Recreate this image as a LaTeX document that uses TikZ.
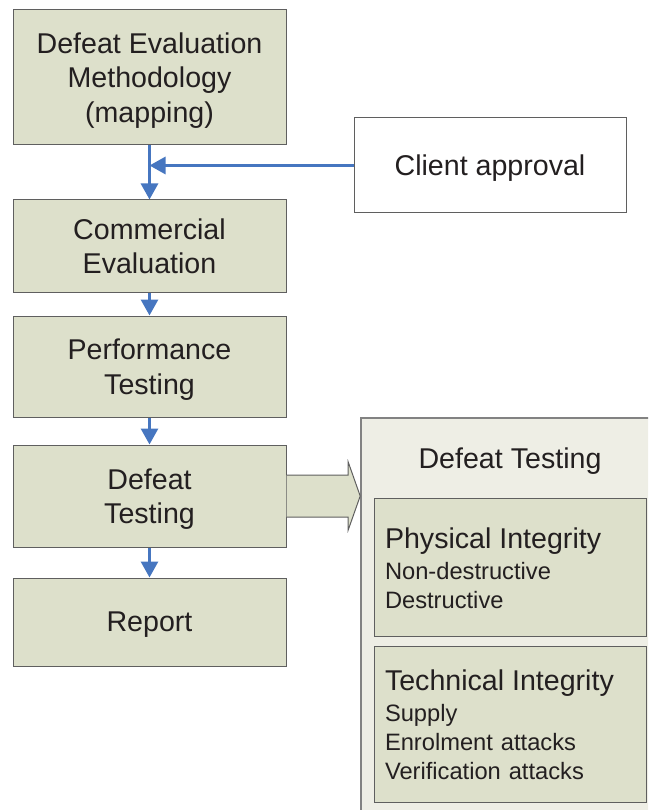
\documentclass[tikz,border=0pt]{standalone}
\usepackage{fontspec}
\setmainfont{Liberation Sans}
\usetikzlibrary{arrows.meta,calc}
\definecolor{boxfill}{RGB}{221,224,203}
\definecolor{panelfill}{RGB}{238,238,229}
\definecolor{boxline}{RGB}{95,95,95}
\definecolor{panelline}{RGB}{130,130,130}
\definecolor{flowblue}{RGB}{70,118,192}
\definecolor{txt}{RGB}{35,31,32}
\newcommand\dnstrutsm{\rule{0pt}{23pt}}
\begin{document}
\begin{tikzpicture}[x=1pt,y=-1pt,
  stepbox/.style={draw=boxline, line width=1pt, fill=boxfill, minimum width=273pt,
    align=center, text=txt, font=\fontsize{28.6}{34.5}\selectfont, inner sep=0pt,
    text depth=0pt},
  whitebox/.style={draw=boxline, line width=1pt, fill=white, minimum width=272pt,
    minimum height=95pt, text=txt, font=\fontsize{28.6}{34.5}\selectfont, inner sep=0pt,
    text depth=0pt},
  panelbox/.style={draw=panelline, line width=1.6pt, fill=panelfill, minimum width=298pt,
    minimum height=397pt, inner sep=0pt},
  subbox/.style={draw=boxline, line width=1pt, fill=boxfill, text width=250pt,
    inner xsep=11pt, inner ysep=0pt, align=left, text=txt,
    font=\fontsize{23.7}{29}\selectfont, execute at begin node=\dnstrutsm},
  titletext/.style={text=txt, font=\fontsize{28.6}{34.5}\selectfont, inner sep=0pt},
  flow/.style={draw=flowblue, line width=3pt, -{Triangle[width=17pt,length=16pt]}},
  blockarrow/.style={draw=boxline, line width=1pt, fill=boxfill}
]
\useasboundingbox (0,0) rectangle (648,810);
\clip (0,0) rectangle (648,810);

% left column
\node[stepbox, minimum height=135pt] (d1) at (149.5,77.5) {Defeat Evaluation\\Methodology\\(mapping)};
\node[stepbox, minimum height=92pt] (d2) at (149.5,246) {Commercial\\Evaluation};
\node[stepbox, minimum height=101pt] (d3) at (149.5,366.5) {Performance\\Testing};
\node[stepbox, minimum height=102pt] (d4) at (149.5,496) {Defeat\\Testing};
\node[stepbox, minimum height=88pt] (d5) at (149.5,622) {Report};

% client approval
\node[whitebox] (client) at (490,165.5) {Client approval};

% right panel
\node[panelbox] (panel) at (510,616.5) {};
\node[titletext] (ptitle) at (510,461) {Defeat Testing};
\node[subbox, minimum height=138pt] (phys) at (510,567)
  {{\fontsize{28.6}{34}\selectfont Physical Integrity}\\[2pt]Non-destructive\\Destructive};
\node[subbox, minimum height=156pt] (tech) at (510,724)
  {{\fontsize{28.6}{34}\selectfont Technical Integrity}\\[2pt]Supply\\Enrolment attacks\\Verification attacks};

% connectors
\draw[flow] (d1.south) -- (d2.north);
\draw[flow] (client.west) -- (client.west -| d1.south);
\draw[flow] (d2.south) -- (d3.north);
\draw[flow] (d3.south) -- (d4.north);
\draw[flow] (d4.south) -- (d5.north);

% block arrow into the panel
\coordinate (tip) at (d4.east -| panel.west);
\draw[blockarrow] ($(d4.east)+(0,-21)$) -- ($(tip)+(-12,-21)$) -- ($(tip)+(-12,-34)$)
  -- (tip) -- ($(tip)+(-12,34)$) -- ($(tip)+(-12,21)$) -- ($(d4.east)+(0,21)$);
\end{tikzpicture}
\end{document}
